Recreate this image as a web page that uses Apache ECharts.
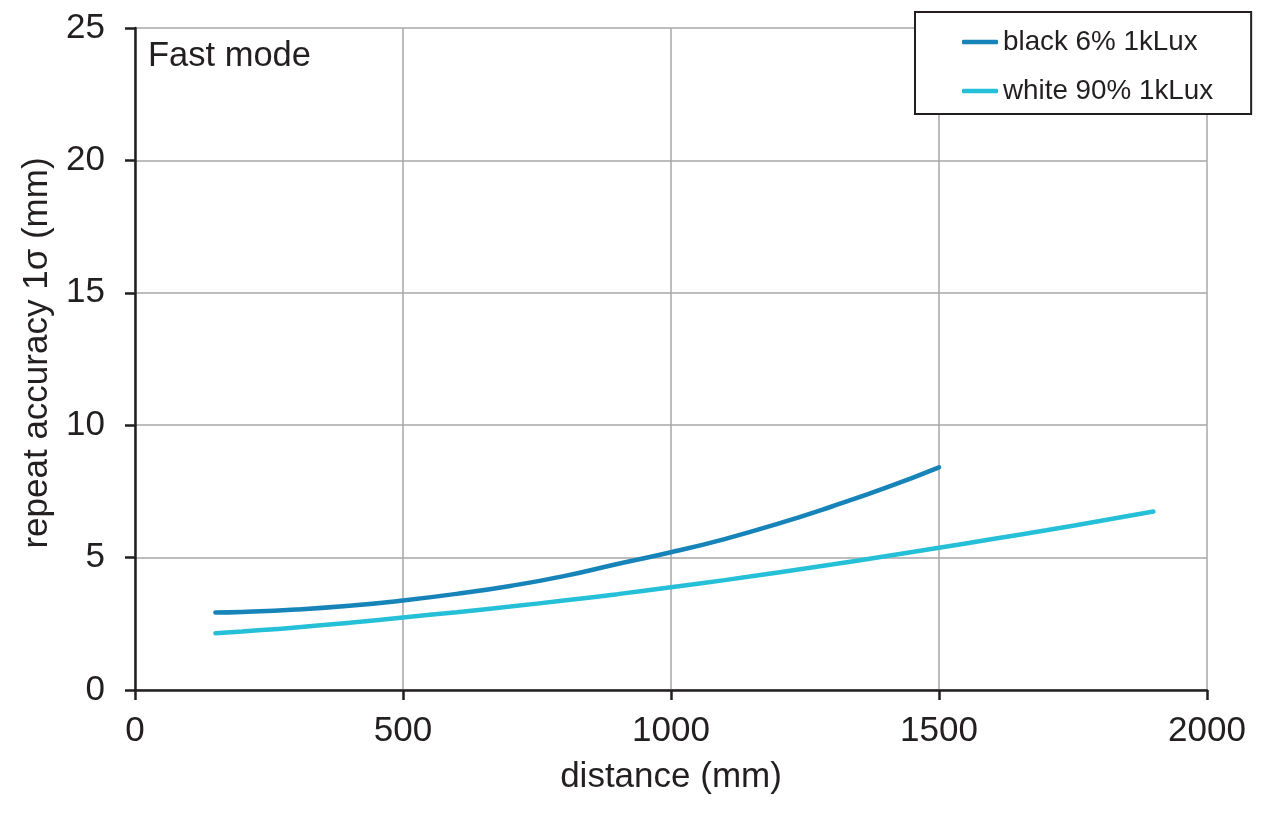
<!DOCTYPE html>
<html>
<head>
<meta charset="utf-8">
<title>repeat accuracy - Fast mode</title>
<script src="https://cdn.jsdelivr.net/npm/echarts@6/dist/echarts.min.js"></script>
<style>
  html, body { margin: 0; padding: 0; background: #fff; }
  #chart-container { width: 1280px; height: 832px; }
</style>
</head>
<body>
<div id="chart-container"></div>
<script>
// values
var distanceBlack = [150, 200, 300, 400, 500, 600, 700, 800, 900, 1000, 1100, 1200, 1300, 1400, 1500];
var accuracyBlack = [2.93, 2.95, 3.04, 3.18, 3.38, 3.63, 3.93, 4.30, 4.76, 5.20, 5.70, 6.28, 6.93, 7.63, 8.41];

var distanceWhite = [150, 200, 300, 400, 500, 600, 700, 800, 900, 1000, 1100, 1200, 1300, 1400, 1500, 1600, 1700, 1800, 1900];
var accuracyWhite = [2.14, 2.21, 2.36, 2.54, 2.74, 2.94, 3.15, 3.38, 3.62, 3.88, 4.15, 4.44, 4.74, 5.05, 5.37, 5.70, 6.03, 6.38, 6.74];

var xTicks = [0, 500, 1000, 1500, 2000];
var yTicks = [0, 5, 10, 15, 20, 25];

var seriesNames = ['black 6% 1kLux', 'white 90% 1kLux'];
var seriesColors = ['#1784b9', '#25c0d7'];

function pairs(xs, ys) {
  return xs.map(function (x, i) { return [x, ys[i]]; });
}

var fontFamily = '"Liberation Sans", Arial, sans-serif';
var ink = '#231f20';

var dom = document.getElementById('chart-container');
var myChart = echarts.init(dom, null, { renderer: 'canvas' });

var option = {
  animation: false,
  textStyle: { fontFamily: fontFamily, color: ink },
  grid: { left: 135, right: 73, top: 28, bottom: 142, containLabel: false },
  legend: {
    orient: 'vertical',
    left: 915,
    top: 12,
    padding: [16, 38, 9, 47],
    itemGap: 21,
    itemWidth: 36,
    itemHeight: 4.5,
    icon: 'roundRect',
    borderColor: ink,
    borderWidth: 2,
    borderRadius: 0,
    backgroundColor: '#fff',
    textStyle: { fontSize: 27.8, color: ink, fontFamily: fontFamily },
    data: seriesNames
  },
  graphic: [{
    type: 'text',
    left: 148,
    top: 39,
    style: { text: 'Fast mode', fontSize: 34.5, fill: ink, fontFamily: fontFamily }
  }],
  xAxis: {
    type: 'value',
    min: xTicks[0],
    max: xTicks[xTicks.length - 1],
    interval: 500,
    name: 'distance (mm)',
    nameLocation: 'middle',
    nameGap: 70,
    nameTextStyle: { fontSize: 35, color: ink },
    axisLine: { show: true, lineStyle: { color: ink, width: 2.5 } },
    axisTick: { show: true, length: 10, inside: false, lineStyle: { color: ink, width: 2.5 } },
    axisLabel: { fontSize: 35, color: ink, margin: 24, formatter: function (v) { return String(v); } },
    splitLine: { show: true, lineStyle: { color: '#a7a7a9', width: 1.5 } }
  },
  yAxis: {
    type: 'value',
    min: yTicks[0],
    max: yTicks[yTicks.length - 1],
    interval: 5,
    name: 'repeat accuracy 1σ (mm)',
    nameLocation: 'middle',
    nameGap: 65,
    nameTextStyle: { fontSize: 35, color: ink, padding: [0, 0, 0, 12] },
    axisLine: { show: true, lineStyle: { color: ink, width: 2.5 } },
    axisTick: { show: true, length: 10, inside: false, lineStyle: { color: ink, width: 2.5 } },
    axisLabel: { fontSize: 35, color: ink, margin: 30 },
    splitLine: { show: true, lineStyle: { color: '#a7a7a9', width: 1.5 } }
  },
  series: [
    {
      name: seriesNames[0],
      type: 'line',
      smooth: true,
      showSymbol: false,
      symbol: 'none',
      color: seriesColors[0],
      lineStyle: { width: 4.5, color: seriesColors[0], cap: 'round' },
      data: pairs(distanceBlack, accuracyBlack)
    },
    {
      name: seriesNames[1],
      type: 'line',
      smooth: true,
      showSymbol: false,
      symbol: 'none',
      color: seriesColors[1],
      lineStyle: { width: 4.5, color: seriesColors[1], cap: 'round' },
      data: pairs(distanceWhite, accuracyWhite)
    }
  ]
};

myChart.setOption(option);
window.addEventListener('resize', myChart.resize);
</script>
</body>
</html>
